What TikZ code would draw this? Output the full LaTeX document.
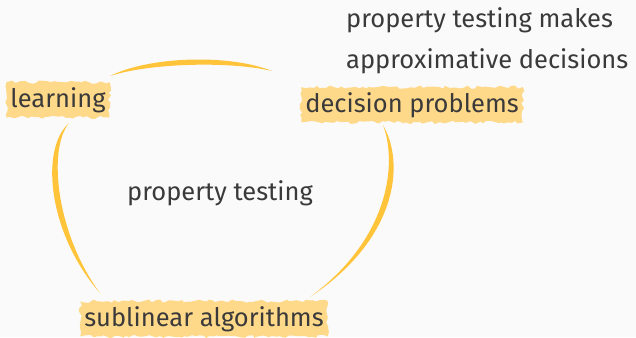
\documentclass[tikz,border=0pt]{standalone}
\usepackage{fontspec}
\setmainfont{Fira Sans}
\usetikzlibrary{decorations.pathmorphing}
\definecolor{bg}{HTML}{FAFAFA}
\definecolor{ink}{HTML}{3A3A3A}
\definecolor{marker}{HTML}{FFD98A}
\definecolor{pen}{HTML}{FFC43A}
\tikzset{
  label text/.style={text=ink, font=\fontsize{25.5}{30}\selectfont, inner sep=0pt},
  marked/.style={label text, fill=marker, inner xsep=4pt, inner ysep=5pt,
    decorate, decoration={random steps, segment length=3.5pt, amplitude=1.6pt}},
  stroke/.style={fill=pen, draw=none},
}
% tapered hand-drawn arc between two named points
\newcommand{\penarc}[6]{%
  \fill[stroke] (#1) .. controls #2 and #3 .. (#4) .. controls #5 and #6 .. (#1);}
\begin{document}
\begin{tikzpicture}[x=1pt, y=-1pt]
  \pgfmathsetseed{7}
  \fill[bg] (0,0) rectangle (636,337);
  \useasboundingbox (0,0) rectangle (636,337);

  \node[marked, anchor=base] (learn) at (58,107) {learning};
  \node[marked, anchor=base] (dec) at (412,112) {decision problems};
  \node[marked, anchor=base] (sub) at (204,326) {sublinear algorithms};
  \node[label text, anchor=base] (pt) at (220,200) {property testing};
  \node[label text, anchor=base west] (note1) at (346,28) {property testing makes};
  \node[label text, anchor=base west] (note2) at (346,68) {approximative decisions};

  % arc ends
  \coordinate (a1) at (110,76);  \coordinate (a2) at (272,71);
  \coordinate (b1) at (69,123);  \coordinate (b2) at (100,293);
  \coordinate (c1) at (383,125); \coordinate (c2) at (310,297);

  \penarc{a1}{(150,56)}{(230,54)}{a2}{(230,61)}{(150,63)}
  \penarc{b1}{(39,150)}{(49,235)}{b2}{(57,235)}{(47,150)}
  \penarc{c1}{(406,165)}{(396,240)}{c2}{(388,240)}{(398,165)}
\end{tikzpicture}
\end{document}
